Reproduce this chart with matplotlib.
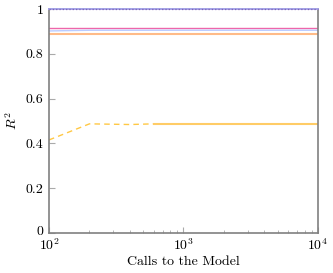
import matplotlib
matplotlib.use("Agg")
import matplotlib.pyplot as plt
import matplotlib.transforms as mtransforms
import numpy as np

plt.rcParams['font.family'] = 'cmr10'
plt.rcParams['mathtext.fontset'] = 'cm'
plt.rcParams['axes.formatter.use_mathtext'] = True

# calls to the model and R^2 per method
calls = [100, 200, 600, 1000, 2000, 5000, 10000]
r2_blue = [1.0, 1.0, 1.0, 1.0, 1.0, 1.0, 1.0]
r2_purple = [0.999, 0.999, 0.999, 0.999, 0.999, 0.999, 0.999]
r2_pink = [0.914, 0.914, 0.914, 0.914, 0.914, 0.914, 0.914]
r2_lightblue = [0.902, 0.905, 0.905, 0.905, 0.905, 0.905, 0.905]
r2_peach = [0.889, 0.889, 0.889, 0.889, 0.889, 0.889, 0.889]

calls_dash = [100, 200, 400, 600]
r2_yellow_dash = [0.415, 0.487, 0.484, 0.487]
calls_solid = [600, 1000, 2000, 5000, 10000]
r2_yellow_solid = [0.487, 0.487, 0.487, 0.487, 0.487]

yticks = [0, 0.2, 0.4, 0.6, 0.8, 1]
ylabels = ['0', '0.2', '0.4', '0.6', '0.8', '1']

fig = plt.figure(figsize=(3.33, 2.73), dpi=100)
ax = fig.add_axes([0.147, 0.147, 0.808, 0.82])

ax.plot(calls, r2_blue, color='#a8a8f0', lw=1.3, zorder=4, clip_on=False)
ax.plot(calls, r2_purple, color='#8060b8', lw=0.9, ls=':', zorder=5, clip_on=False)
ax.plot(calls, r2_pink, color='#ee66aa', lw=1.0)
ax.plot(calls, r2_lightblue, color='#bbccff', lw=1.0)
ax.plot(calls, r2_peach, color='#ffbb88', lw=1.5)
ax.plot(calls_dash, r2_yellow_dash, color='#ffc844', lw=1.0, ls=(0, (4, 3)))
ax.plot(calls_solid, r2_yellow_solid, color='#ffcc66', lw=1.5)

ax.set_xscale('log')
ax.set_xlim(100, 10000)
ax.set_ylim(0, 1)
ax.set_yticks(yticks)
ax.set_yticklabels(ylabels)

for s in ax.spines.values():
    s.set_color('#808080')
    s.set_linewidth(1.2)
ax.tick_params(which='both', direction='in', color='#aaaaaa', labelsize=10)
ax.tick_params(which='major', length=4)
ax.tick_params(which='minor', length=2)
ax.tick_params(axis='y', which='minor', left=False)
ax.tick_params(axis='y', pad=4)
ax.tick_params(axis='x', pad=3)

# lift the "0" label a little so it clears the 10^2 label
lbl0 = ax.get_yticklabels()[0]
lbl0.set_transform(lbl0.get_transform() + mtransforms.ScaledTranslation(0, 2 / 72, fig.dpi_scale_trans))

ax.set_xlabel('Calls to the Model', fontsize=10, labelpad=2)
ax.set_ylabel('$R^2$', fontsize=10)

fig.savefig('out.png', dpi=100)
